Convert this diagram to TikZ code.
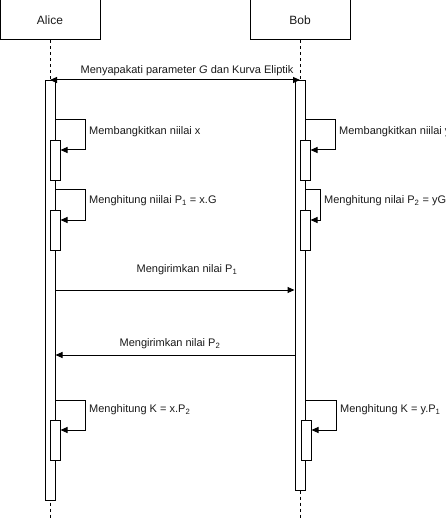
\documentclass[tikz,border=0pt]{standalone}
\usepackage{fontspec}
\setmainfont{Liberation Sans}
\usetikzlibrary{arrows.meta,positioning,calc}
\definecolor{Ink}{HTML}{000000}
\definecolor{TextInk}{HTML}{1A1A1A}
\tikzset{
  actor/.style={draw=Ink,line width=1pt,minimum width=100pt,minimum height=40pt,inner sep=0pt,font=\fontsize{12}{14}\selectfont,text=TextInk},
  life/.style={draw=Ink,line width=1pt,dash pattern=on 3pt off 3pt},
  activ/.style={draw=Ink,line width=1pt,fill=white,minimum width=10pt,inner sep=0pt,anchor=north},
  msg/.style={-{Triangle[length=7pt,width=6pt]},line width=1pt,draw=Ink},
  msgboth/.style={{Triangle[length=7pt,width=6pt]}-{Triangle[length=7pt,width=6pt]},line width=1pt,draw=Ink},
  lbl/.style={font=\fontsize{11}{13}\selectfont,text=TextInk,inner sep=0pt}
}

\begin{document}
\begin{tikzpicture}[x=1pt,y=-1pt]
\clip (0,0) rectangle (446,521);
% participants
\node[actor] (alice) at (50,20) {Alice};
\node[actor] (bob) at (300,20) {Bob};
\coordinate (aliceEnd) at (50,518);
\coordinate (bobEnd) at (300,518);
\draw[life] (alice) -- (aliceEnd);
\draw[life] (bob) -- (bobEnd);
% activation bars
\node[activ,minimum height=420pt] (aliceAct) at (50,80) {};
\node[activ,minimum height=410pt] (bobAct) at (300,80) {};
\node[activ,minimum height=40pt] (aliceS1) at (55,140) {};
\node[activ,minimum height=40pt] (aliceS2) at (55,210) {};
\node[activ,minimum height=40pt] (aliceS3) at (55,420) {};
\node[activ,minimum height=40pt] (bobS1) at (305,140) {};
\node[activ,minimum height=40pt] (bobS2) at (305,210) {};
\node[activ,minimum height=40pt] (bobS3) at (306,420) {};
% agreement
\draw[msgboth] (aliceAct.north) -- (bobAct.north);
\node[lbl] (agree) at (187,71) {Menyapakati parameter \textit{G} dan Kurva Eliptik};
% self calls Alice
\draw[msg] (aliceAct.east |- 0,120) -- (85,120) |- (aliceS1.east |- 0,150);
\node[lbl,anchor=west] (aliceL1) at (89,132) {Membangkitkan niilai x};
\draw[msg] (aliceAct.east |- 0,190) -- (85,190) |- (aliceS2.east |- 0,220);
\node[lbl,anchor=west] (aliceL2) at (89,201) {Menghitung niilai P\textsubscript{1} = x.G};
% self calls Bob
\draw[msg] (bobAct.east |- 0,120) -- (335,120) |- (bobS1.east |- 0,150);
\node[lbl,anchor=west] (bobL1) at (339,132) {Membangkitkan niilai y};
\draw[msg] (bobAct.east |- 0,190) -- (320,190) |- (bobS2.east |- 0,220);
\node[lbl,anchor=west] (bobL2) at (324,201) {Menghitung nilai P\textsubscript{2} = yG};
% exchange
\draw[msg] (aliceAct.east |- 0,290) -- (bobAct.west |- 0,290);
\node[lbl] (sendP1) at (187,270) {Mengirimkan nilai P\textsubscript{1}};
\draw[msg] (bobAct.west |- 0,355) -- (aliceAct.east |- 0,355);
\node[lbl] (sendP2) at (170,344) {Mengirimkan nilai P\textsubscript{2}};
% shared key
\draw[msg] (aliceAct.east |- 0,400) -- (85,400) |- (aliceS3.east |- 0,430);
\node[lbl,anchor=west] (aliceL3) at (89,410) {Menghitung K = x.P\textsubscript{2}};
\draw[msg] (bobAct.east |- 0,400) -- (336,400) |- (bobS3.east |- 0,430);
\node[lbl,anchor=west] (bobL3) at (340,410) {Menghitung K = y.P\textsubscript{1}};
\end{tikzpicture}
\end{document}
